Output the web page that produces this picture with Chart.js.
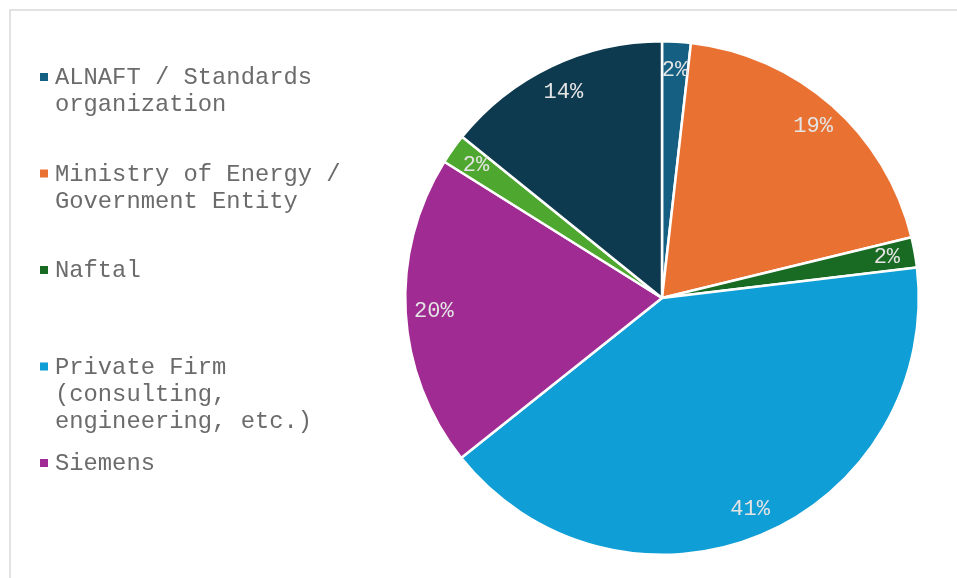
<!DOCTYPE html>
<html>
<head>
<meta charset="utf-8">
<script src="https://cdn.jsdelivr.net/npm/chart.js@4/dist/chart.umd.min.js"></script>
<style>
  html, body { margin: 0; padding: 0; background: #fff; }
  #wrap { width: 957px; height: 578px; position: relative; }
</style>
</head>
<body>
<div id="wrap"><canvas id="pieChart" width="957" height="578"></canvas></div>
<script>
  // slice data, clockwise from 12 o'clock
  const categories = [
    'ALNAFT / Standards organization',
    'Ministry of Energy / Government Entity',
    'Naftal',
    'Private Firm (consulting, engineering, etc.)',
    'Siemens',
    '(not shown in legend)',
    '(not shown in legend) '
  ];
  const shares = [1.8, 19.4, 1.9, 41.2, 19.6, 1.9, 14.2];
  const colors = ['#156082', '#e97132', '#196b24', '#0f9ed5', '#a02b93', '#4ea72e', '#0e3a4f'];
  const legendShown = 5; // the legend only has room for the first five

  const FONT = "'Liberation Mono', 'Courier New', monospace";

  // light grey frame along the left and top edge
  const framePlugin = {
    id: 'frame',
    beforeDraw(chart) {
      const c = chart.ctx;
      c.save();
      c.strokeStyle = '#d9d9d9';
      c.lineWidth = 1.5;
      c.beginPath();
      c.moveTo(10, 578);
      c.lineTo(10, 10);
      c.lineTo(957, 10);
      c.stroke();
      c.restore();
    }
  };

  function wrap(c, text, maxW) {
    const words = text.split(' ');
    const lines = [];
    let cur = '';
    words.forEach(w => {
      const test = cur ? cur + ' ' + w : w;
      if (cur && c.measureText(test).width > maxW) {
        lines.push(cur);
        cur = w;
      } else {
        cur = test;
      }
    });
    if (cur) lines.push(cur);
    return lines;
  }

  // Excel-like legend on the left, multi-line entries
  const legendPlugin = {
    id: 'sideLegend',
    afterDraw(chart) {
      const c = chart.ctx;
      const labels = chart.data.labels;
      const bg = chart.data.datasets[0].backgroundColor;
      c.save();
      c.font = '23.8px ' + FONT;
      c.textBaseline = 'alphabetic';
      c.textAlign = 'left';
      for (let i = 0; i < legendShown; i++) {
        const base = 84 + i * 96.5;
        c.fillStyle = bg[i];
        c.fillRect(40, base - 11, 8, 8);
        c.fillStyle = '#6b6b6b';
        wrap(c, labels[i], 296).forEach((ln, k) => {
          c.fillText(ln, 55, base + k * 27);
        });
      }
      c.restore();
    }
  };

  // percentage labels near the rim of each slice
  const pctPlugin = {
    id: 'pctLabels',
    afterDatasetsDraw(chart) {
      const c = chart.ctx;
      const meta = chart.getDatasetMeta(0);
      const data = chart.data.datasets[0].data;
      const total = data.reduce((a, b) => a + b, 0);
      c.save();
      c.font = '22px ' + FONT;
      c.fillStyle = '#e4e4e4';
      c.textAlign = 'center';
      c.textBaseline = 'middle';
      meta.data.forEach((arc, i) => {
        const p = arc.getProps(['x', 'y', 'startAngle', 'endAngle', 'outerRadius'], true);
        const mid = (p.startAngle + p.endAngle) / 2;
        const r = p.outerRadius * 0.89;
        const txt = Math.round(data[i] / total * 100) + '%';
        c.fillText(txt, p.x + Math.cos(mid) * r, p.y + Math.sin(mid) * r);
      });
      c.restore();
    }
  };

  new Chart(document.getElementById('pieChart'), {
    type: 'pie',
    data: {
      labels: categories,
      datasets: [{
        data: shares,
        backgroundColor: colors,
        borderColor: '#ffffff',
        borderWidth: 2.5
      }]
    },
    options: {
      responsive: false,
      animation: false,
      layout: { padding: { left: 404, right: 37, top: 40, bottom: 22 } },
      plugins: {
        legend: { display: false },
        tooltip: { enabled: false }
      }
    },
    plugins: [framePlugin, legendPlugin, pctPlugin]
  });
</script>
</body>
</html>
